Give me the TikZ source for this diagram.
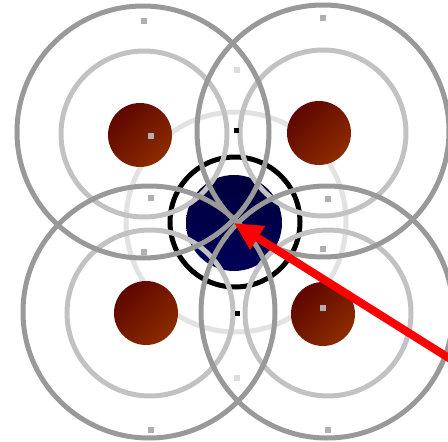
\documentclass[tikz,border=0pt]{standalone}
\usetikzlibrary{arrows.meta}
\definecolor{ringdark}{HTML}{999999}
\definecolor{ringmid}{HTML}{C2C2C2}
\definecolor{ringlight}{HTML}{E2E2E2}
\definecolor{brownA}{HTML}{5E0600}
\definecolor{brownB}{HTML}{8C2C00}
\definecolor{navyA}{HTML}{00003C}
\definecolor{navyB}{HTML}{000058}
\definecolor{sqgray}{HTML}{B0B0B0}
\definecolor{sqlight}{HTML}{DCDCDC}
\tikzset{
  outerring/.style={draw=ringdark, line width=5pt, circle, minimum size=252pt, inner sep=0pt},
  midring/.style={draw=ringmid, line width=5pt, circle, minimum size=166pt, inner sep=0pt},
  lightring/.style={draw=ringlight, line width=5pt, circle, minimum size=220pt, inner sep=0pt},
  atom/.style={circle, minimum size=64pt, inner sep=0pt, left color=brownA, right color=brownB, shading angle=45},
  core/.style={circle, minimum size=96pt, inner sep=0pt, top color=navyA, bottom color=navyB},
  blackring/.style={draw=black, line width=5pt, circle, minimum size=130pt, inner sep=0pt},
  sq/.style={fill=sqgray, minimum size=6pt, inner sep=0pt},
  sqL/.style={fill=sqlight, minimum size=6pt, inner sep=0pt},
  sqB/.style={fill=black, minimum size=5pt, inner sep=0pt},
  redarrow/.style={draw=red, line width=8pt, -{Triangle[length=28pt,width=26pt]}}
}
\begin{document}
\begin{tikzpicture}[x=1pt,y=-1pt]
\useasboundingbox (0,0) rectangle (448,442);
% light ring around the centre
\node[lightring] (lr) at (236,222) {};
% atoms
\node[atom] (a1) at (140,135) {};
\node[atom] (a2) at (319,133) {};
\node[atom] (a3) at (146,313) {};
\node[atom] (a4) at (323,314) {};
% core
\node[core] (c) at (234,223) {};
\node[blackring] (br) at (235,222) {};
% rings
\node[midring] (m1) at (144,134) {};
\node[midring] (m2) at (323,133) {};
\node[midring] (m3) at (150,313) {};
\node[midring] (m4) at (328,313) {};
\node[outerring] (o1) at (143,132) {};
\node[outerring] (o2) at (323,131) {};
\node[outerring] (o3) at (149,312) {};
\node[outerring] (o4) at (327,312) {};
% markers
\node[sq] (s1) at (144,21) {};
\node[sq] (s2) at (151,136) {};
\node[sq] (s3) at (151,198) {};
\node[sq] (s4) at (323,18) {};
\node[sq] (s5) at (328,199) {};
\node[sq] (s6) at (144,252) {};
\node[sq] (s7) at (151,430) {};
\node[sq] (s8) at (323,249) {};
\node[sq] (s9) at (328,430) {};
\node[sq] (s10) at (323,308) {};
\node[sqL] (l1) at (237,70) {};
\node[sqL] (l2) at (237,378) {};
\node[sqB] (b1) at (236,130) {};
\node[sqB] (b2) at (237,313) {};
% arrow
\coordinate (start) at (452,360);
\draw[redarrow] (start) -- (c.center);
\end{tikzpicture}
\end{document}
